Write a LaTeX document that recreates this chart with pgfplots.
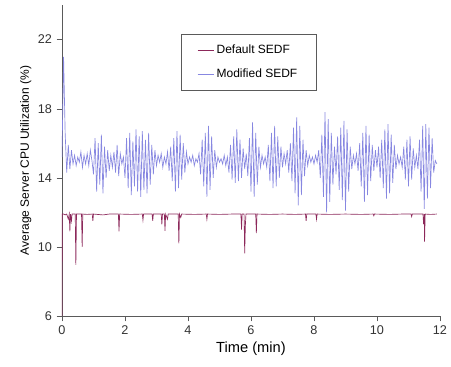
\documentclass[border=0pt]{standalone}
\usepackage{pgfplots}
\pgfplotsset{compat=1.18}
\usepackage{pgfplotstable}
\usepackage{fontspec}
\setmainfont{Liberation Sans}
\definecolor{defred}{RGB}{140,40,90}
\definecolor{modblue}{RGB}{135,135,225}
\definecolor{axgray}{RGB}{90,90,90}
\pgfplotstableread{
y
15.2
21.0
16.6
14.3
15.9
14.5
15.6
14.8
15.3
14.7
15.2
14.9
15.5
14.6
15.3
14.8
15.4
14.7
15.6
15.0
14.2
16.3
13.2
16.0
13.6
16.5
13.1
15.8
14.0
15.6
14.4
15.3
14.6
15.5
14.3
15.9
14.1
15.4
14.8
15.2
14.0
16.3
13.4
16.6
13.0
16.1
13.5
16.8
13.2
16.4
12.9
16.7
13.3
16.2
13.1
16.6
13.6
15.9
14.2
15.6
14.7
15.3
14.9
15.4
14.6
15.2
14.8
15.5
14.4
15.8
13.8
16.3
13.2
16.7
13.4
16.5
13.9
16.0
14.3
15.5
14.8
15.2
14.9
15.3
14.7
15.1
14.9
15.4
14.2
16.2
13.5
16.6
12.9
17.0
13.3
16.4
14.0
15.6
14.6
15.2
14.9
15.1
14.8
15.3
14.7
15.2
14.3
15.9
13.9
16.4
13.7
16.8
13.8
16.2
14.0
15.7
14.5
15.4
14.1
16.3
13.2
17.2
12.9
16.6
13.6
15.8
14.6
15.3
14.8
15.2
14.6
15.9
13.8
16.6
13.4
17.0
13.5
16.4
14.0
15.8
14.6
15.4
14.8
15.6
14.3
16.0
13.8
16.9
13.1
17.5
12.4
17.0
13.0
16.2
14.1
15.6
14.7
15.3
14.9
15.2
14.8
15.3
14.9
15.6
14.0
16.5
12.9
17.8
12.0
17.4
12.6
16.6
13.6
15.8
14.2
16.4
13.3
16.9
12.7
17.3
12.1
16.8
13.2
15.8
14.5
15.3
14.8
15.4
14.4
16.0
13.5
16.6
12.6
17.0
13.0
16.5
13.8
15.9
14.4
15.6
14.6
15.8
14.0
16.2
13.4
16.8
12.8
17.1
13.1
16.5
13.7
15.9
14.5
15.3
14.8
15.2
14.6
15.8
13.9
16.2
13.5
16.4
13.9
15.7
14.6
15.3
14.5
16.2
13.2
17.0
12.2
17.1
12.8
16.9
13.4
16.3
14.3
15.0
14.8
}\modtable
\begin{document}
\begin{tikzpicture}
\begin{axis}[
  scale only axis,
  width=283.5pt, height=233.25pt,
  xmin=0, xmax=12, ymin=6, ymax=24,
  xtick={0,2,4,6,8,10,12},
  ytick={6,10,14,18,22},
  axis lines=left,
  axis line style={draw=axgray,-},
  tick style={draw=axgray},
  tick align=outside,
  major tick length=4pt,
  tick label style={font=\fontsize{9.5}{11}\selectfont, text=black!80},
  /pgf/number format/assume math mode=true,
  xlabel={Time (min)},
  ylabel={Average Server CPU Utilization (\%)},
  xlabel style={font=\fontsize{11}{13}\selectfont, yshift=2pt},
  ylabel style={font=\fontsize{9}{11}\selectfont, yshift=-2pt},
  legend style={at={(0.315,0.907)}, anchor=north west, draw=axgray,
    font=\fontsize{9}{11}\selectfont, row sep=6pt, inner xsep=12pt, inner ysep=6pt},
  legend cell align=left,
  legend image code/.code={\draw[#1] (0cm,0cm) -- (0.42cm,0cm);},
]
\addplot[defred, line width=0.5pt] coordinates {
(0,6) (0.01,11.9) (0.05,11.9) (0.1,11.85) (0.15,11.9) (0.2,11.6) (0.23,11.9) (0.25,10.9) (0.27,11.9)
(0.3,11.5) (0.32,11.9) (0.42,11.9) (0.44,8.96) (0.46,11.9) (0.62,11.9) (0.64,10.0) (0.66,11.9)
(0.8,11.88) (0.96,11.9) (0.98,11.5) (1.0,11.9) (1.3,11.85) (1.5,11.9) (1.79,11.9) (1.81,10.9) (1.83,11.9)
(2.2,11.88) (2.55,11.9) (2.57,11.55) (2.59,11.9) (2.86,11.9) (2.88,11.5) (2.9,11.9)
(3.15,11.9) (3.17,11.3) (3.19,11.9) (3.25,11.9) (3.27,10.93) (3.29,11.9) (3.35,11.6) (3.37,11.9)
(3.69,11.9) (3.71,10.2) (3.73,11.9) (3.77,11.7) (3.8,11.9) (4.2,11.88) (4.58,11.9) (4.6,11.6) (4.62,11.9)
(5.0,11.88) (5.4,11.9) (5.68,11.9) (5.7,11.0) (5.72,11.9) (5.78,11.9) (5.8,9.63) (5.82,11.2) (5.84,11.9)
(6.15,11.9) (6.17,10.8) (6.19,11.9) (6.6,11.88) (7.0,11.9) (7.4,11.88) (7.73,11.9) (7.75,11.5) (7.77,11.9)
(8.06,11.9) (8.08,11.6) (8.1,11.9) (8.5,11.88) (9.0,11.9) (9.5,11.88) (9.88,11.9) (9.9,11.8) (9.92,11.9)
(10.4,11.88) (10.8,11.9) (11.08,11.9) (11.1,11.75) (11.12,11.9) (11.46,11.9) (11.48,11.3) (11.5,11.9)
(11.51,10.3) (11.53,11.9) (11.7,11.88) (11.9,11.9)
};
\addlegendentry{Default SEDF}
\addplot[modblue, line width=0.5pt] table[x expr=\coordindex*0.05, y=y] {\modtable};
\addlegendentry{Modified SEDF}
\end{axis}
\pgfresetboundingbox
\path (-46.5pt,-38.25pt) rectangle (291.75pt,237pt);
\end{tikzpicture}
\end{document}
